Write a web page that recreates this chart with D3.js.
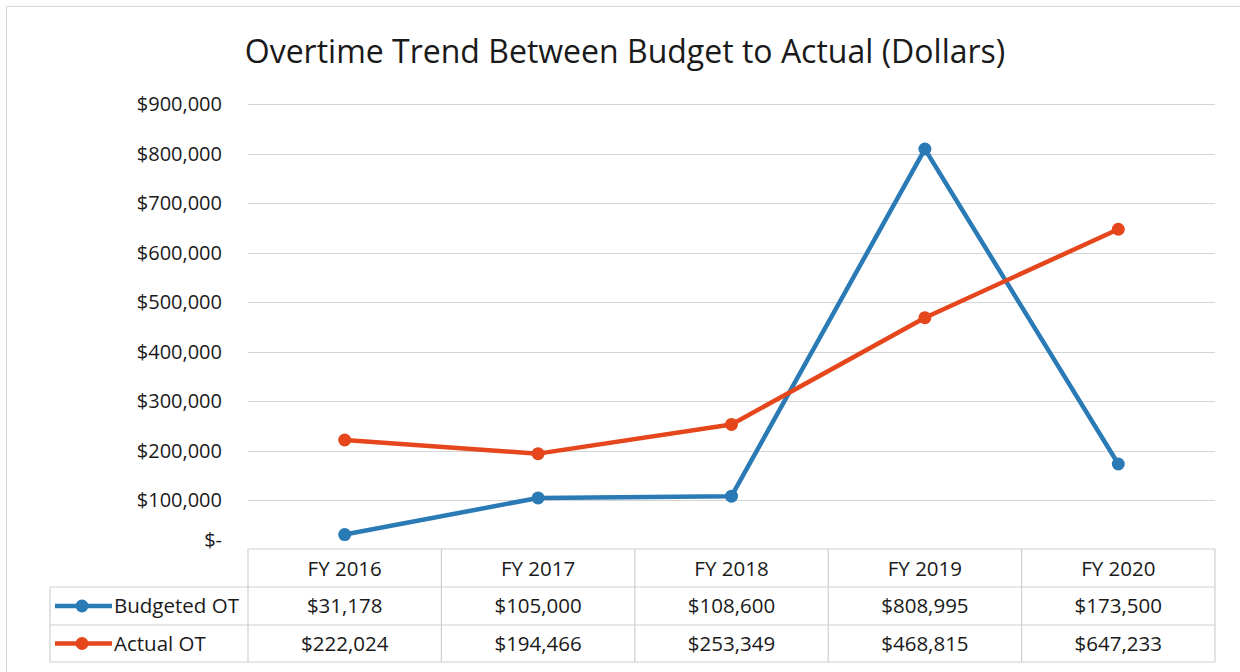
<!DOCTYPE html>
<meta charset="utf-8">
<style>
  body { margin: 0; background: #fdfdfd; }
  text { font-family: "Open Sans", "Noto Sans", sans-serif; fill: #1a1a1a; }
</style>
<div id="chart"></div>
<script src="https://cdn.jsdelivr.net/npm/d3@7"></script>
<script>

// data
var years = ["FY 2016", "FY 2017", "FY 2018", "FY 2019", "FY 2020"];
var budgeted = [31178, 105000, 108600, 808995, 173500];
var actual = [222024, 194466, 253349, 468815, 647233];
var seriesNames = ["Budgeted OT", "Actual OT"];
var seriesColors = ["#2a7ab6", "#e5461c"];
var yTicks = [0, 100000, 200000, 300000, 400000, 500000, 600000, 700000, 800000, 900000];

var width = 1240, height = 672;
var svg = d3.select("#chart").append("svg")
    .attr("width", width)
    .attr("height", height);

// outer frame
svg.append("rect")
    .attr("x", 6.5).attr("y", 6.5)
    .attr("width", 1240).attr("height", 700)
    .attr("fill", "#fff")
    .attr("stroke", "#d8d8d8");

svg.append("text")
    .attr("x", 625)
    .attr("y", 63)
    .attr("text-anchor", "middle")
    .style("font-size", "32px")
    .text("Overtime Trend Between Budget to Actual (Dollars)");

var plotL = 248, plotR = 1215, plotT = 104, plotB = 550;

var x = d3.scaleBand()
    .domain(years)
    .range([plotL, plotR]);

var y = d3.scaleLinear()
    .domain([0, 900000])
    .range([plotB, plotT]);

// gridlines
svg.append("g")
    .selectAll("line")
    .data(yTicks.slice(1))
    .enter().append("line")
    .attr("x1", plotL).attr("x2", plotR)
    .attr("y1", function(d) { return Math.round(y(d)) + 0.5; })
    .attr("y2", function(d) { return Math.round(y(d)) + 0.5; })
    .attr("stroke", "#d4d4d4")
    .attr("stroke-width", 1.2);

// y axis labels
var fmt = d3.format(",");
svg.append("g")
    .selectAll("text")
    .data(yTicks)
    .enter().append("text")
    .attr("x", 222)
    .attr("y", function(d) { return y(d) + (d === 0 ? -3 : 7); })
    .attr("text-anchor", "end")
    .style("font-size", "20px")
    .text(function(d) { return d === 0 ? "$-" : "$" + fmt(d); });

// lines
var line = d3.line()
    .x(function(d, i) { return x(years[i]) + x.bandwidth() / 2; })
    .y(function(d) { return y(d); });

[budgeted, actual].forEach(function(vals, k) {
  svg.append("path")
      .datum(vals)
      .attr("fill", "none")
      .attr("stroke", seriesColors[k])
      .attr("stroke-width", 4.5)
      .attr("stroke-linejoin", "round")
      .attr("d", line);

  svg.append("g")
      .selectAll("circle")
      .data(vals)
      .enter().append("circle")
      .attr("cx", function(d, i) { return x(years[i]) + x.bandwidth() / 2; })
      .attr("cy", function(d) { return y(d); })
      .attr("r", 6.5)
      .attr("fill", seriesColors[k]);
});

// data table
var rowY = [549, 587, 625, 662];
var tableLeft = 50;
var table = svg.append("g")
    .attr("stroke", "#cfcfcf")
    .attr("stroke-width", 1.2)
    .attr("fill", "none");

table.append("line").attr("x1", plotL).attr("x2", plotR).attr("y1", rowY[0]).attr("y2", rowY[0]);
[1, 2, 3].forEach(function(r) {
  table.append("line").attr("x1", tableLeft).attr("x2", plotR).attr("y1", rowY[r]).attr("y2", rowY[r]);
});
table.append("line").attr("x1", tableLeft).attr("x2", tableLeft).attr("y1", rowY[1]).attr("y2", rowY[3]);
table.selectAll(".vline")
    .data(years.map(function(d) { return x(d); }).concat([plotR]))
    .enter().append("line")
    .attr("x1", function(d) { return d; }).attr("x2", function(d) { return d; })
    .attr("y1", rowY[0]).attr("y2", rowY[3]);

// header labels
svg.append("g")
    .selectAll("text")
    .data(years)
    .enter().append("text")
    .attr("x", function(d) { return x(d) + x.bandwidth() / 2; })
    .attr("y", rowY[0] + 27)
    .attr("text-anchor", "middle")
    .style("font-size", "20.5px")
    .text(function(d) { return d; });

// value rows
[budgeted, actual].forEach(function(vals, k) {
  var cy = (rowY[k + 1] + rowY[k + 2]) / 2;
  svg.append("line")
      .attr("x1", 55).attr("x2", 112)
      .attr("y1", cy).attr("y2", cy)
      .attr("stroke", seriesColors[k])
      .attr("stroke-width", 4.5);
  svg.append("circle")
      .attr("cx", 82).attr("cy", cy).attr("r", 6.5)
      .attr("fill", seriesColors[k]);
  svg.append("text")
      .attr("x", 114)
      .attr("y", cy + 7)
      .style("font-size", "20.5px")
      .text(seriesNames[k]);

  svg.append("g")
      .selectAll("text")
      .data(vals)
      .enter().append("text")
      .attr("x", function(d, i) { return x(years[i]) + x.bandwidth() / 2; })
      .attr("y", cy + 7)
      .attr("text-anchor", "middle")
      .style("font-size", "20.5px")
      .text(function(d) { return "$" + fmt(d); });
});
</script>
